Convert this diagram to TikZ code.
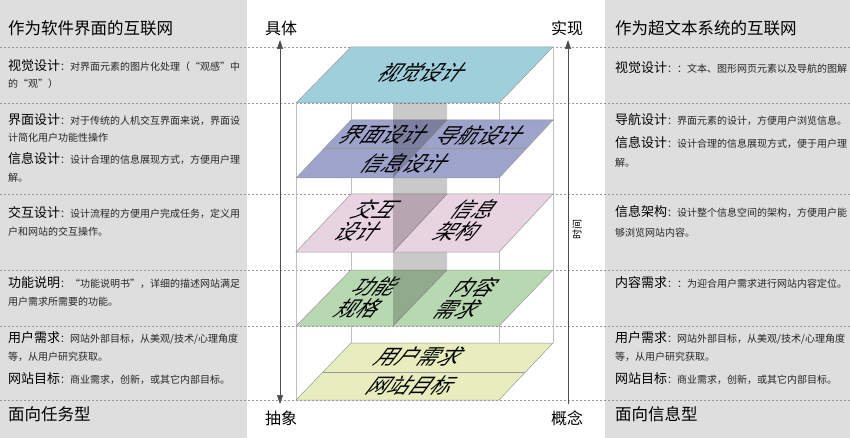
\documentclass[tikz,border=0pt]{standalone}
\usepackage{fontspec}
\setmainfont{Noto Sans CJK SC}
\usetikzlibrary{arrows.meta}
\definecolor{panelgray}{HTML}{DEDEDE}
\definecolor{visualc}{HTML}{9FCFDB}
\definecolor{surfacec}{HTML}{9DA3CB}
\definecolor{structc}{HTML}{E8D3E1}
\definecolor{scopec}{HTML}{B7D8B1}
\definecolor{strategyc}{HTML}{E8EDBE}
\newcommand{\hd}[1]{{\fontsize{13}{14}\selectfont\color{black}#1}}
\newcommand{\layer}[3]{\filldraw[plane,fill=#3] (351,#1) -- (553,#1) -- (499,#2) -- (296,#2) -- cycle;}

\begin{document}
\begin{tikzpicture}[x=1pt,y=-1pt,
  plane/.style={draw=black!40,line width=0.5pt},
  wall/.style={fill=black,fill opacity=0.21,draw=none},
  guide/.style={draw=black!40,dash pattern=on 2pt off 2pt,line width=0.8pt},
  edge/.style={draw=black!25,line width=0.8pt},
  axis/.style={draw=black!70,line width=0.6pt},
  tip/.style={-{Triangle[length=9pt,width=6pt]}},
  tit/.style={anchor=west,inner sep=0pt,font=\fontsize{16.5}{18}\selectfont},
  txt/.style={anchor=west,inner sep=0pt,text=black!85,font=\fontsize{10}{12}\selectfont},
  ends/.style={inner sep=0pt,font=\fontsize{16}{18}\selectfont},
  lbl/.style={inner sep=0pt,xslant=0.75,align=center,font=\fontsize{21}{22}\selectfont}]
\useasboundingbox (0,0) rectangle (850,438);
% side panels
\fill[panelgray] (0,0) rectangle (247,438);
\fill[panelgray] (605,0) rectangle (850,438);
% level guides
\foreach \y in {47,103,194,270,326,400}
  \draw[guide] (0,\y) -- (850,\y);
% box frame
\draw[edge] (296,103) -- (296,400);
\draw[edge] (499,103) -- (499,400);
\draw[edge] (351,47) -- (351,343);
\draw[edge] (553,47) -- (553,343);
% planes, bottom up
\layer{343}{400}{strategyc}
\draw[plane] (323,372) -- (525,372);
\layer{270}{326}{scopec}
\draw[plane] (447,270) -- (393,326);
\fill[wall] (447,194) -- (447,270) -- (393,326) -- (393,252) -- cycle;
\layer{194}{252}{structc}
\draw[plane] (447,194) -- (393,252);
\fill[wall] (447,120) -- (447,194) -- (393,252) -- (393,178) -- cycle;
\layer{120}{178}{surfacec}
\draw[plane] (324,148) -- (526,148);
\draw[plane] (447,120) -- (421,148);
\fill[wall] (447,47) -- (447,120) -- (393,178) -- (393,103) -- cycle;
\layer{47}{103}{visualc}
% plane labels
\node[lbl] (vis) at (423,73) {视觉设计};
\node[lbl] (itf) at (385,135) {界面设计};
\node[lbl] (nav) at (482,135) {导航设计};
\node[lbl] (inf) at (407,163) {信息设计};
\node[lbl] (ixd) at (368,220) {交互\\设计};
\node[lbl] (ia) at (467,220) {信息\\架构};
\node[lbl] (fs) at (368,298) {功能\\规格};
\node[lbl] (cr) at (467,298) {内容\\需求};
\node[lbl] (un) at (420,357) {用户需求};
\node[lbl] (sg) at (412,385) {网站目标};
% axes
\node[ends] (conc) at (281,28) {具体};
\node[ends] (abst) at (281,418) {抽象};
\node[ends] (real) at (567,28) {实现};
\node[ends] (idea) at (567,418) {概念};
\coordinate (lup) at (280,40);
\coordinate (ldn) at (280,404);
\coordinate (rup) at (568,40);
\coordinate (rdn) at (568,404);
\draw[axis,{Triangle[length=9pt,width=6pt]}-{Triangle[length=9pt,width=6pt]}] (lup) -- (ldn);
\draw[axis,tip] (rdn) -- (rup);
\node[inner sep=0pt,rotate=90,font=\fontsize{10}{12}\selectfont] (time) at (577,230) {时间};
% left panel
\node[tit] (lt) at (8,28) {作为软件界面的互联网};
\node[txt] (l1a) at (8,66) {\hd{视觉设计}：对界面元素的图片化处理（“观感”中};
\node[txt] (l1b) at (8,84) {的“观”）};
\node[txt] (l2a) at (8,120) {\hd{界面设计}：对于传统的人机交互界面来说，界面设};
\node[txt] (l2b) at (8,138) {计简化用户功能性操作};
\node[txt] (l3a) at (8,159) {\hd{信息设计}：设计合理的信息展现方式，方便用户理};
\node[txt] (l3b) at (8,178) {解。};
\node[txt] (l4a) at (8,213) {\hd{交互设计}：设计流程的方便用户完成任务，定义用};
\node[txt] (l4b) at (8,232) {户和网站的交互操作。};
\node[txt] (l5a) at (8,283) {\hd{功能说明}：“功能说明书”，详细的描述网站满足};
\node[txt] (l5b) at (8,302) {用户需求所需要的功能。};
\node[txt] (l6a) at (8,338) {\hd{用户需求}：网站外部目标，从美观/技术/心理角度};
\node[txt] (l6b) at (8,357) {等，从用户研究获取。};
\node[txt] (l7a) at (8,379) {\hd{网站目标}：商业需求，创新，或其它内部目标。};
\node[tit] (lf) at (8,414) {面向任务型};
% right panel
\node[tit] (rt) at (615,28) {作为超文本系统的互联网};
\node[txt] (r1a) at (615,68) {\hd{视觉设计}：：文本、图形网页元素以及导航的图解};
\node[txt] (r2a) at (615,120) {\hd{导航设计}：界面元素的设计，方便用户浏览信息。};
\node[txt] (r3a) at (615,143) {\hd{信息设计}：设计合理的信息展现方式，便于用户理};
\node[txt] (r3b) at (615,163) {解。};
\node[txt] (r4a) at (615,212) {\hd{信息架构}：设计整个信息空间的架构，方便用户能};
\node[txt] (r4b) at (615,233) {够浏览网站内容。};
\node[txt] (r5a) at (615,283) {\hd{内容需求}：：为迎合用户需求进行网站内容定位。};
\node[txt] (r6a) at (615,338) {\hd{用户需求}：网站外部目标，从美观/技术/心理角度};
\node[txt] (r6b) at (615,357) {等，从用户研究获取。};
\node[txt] (r7a) at (615,379) {\hd{网站目标}：商业需求，创新，或其它内部目标。};
\node[tit] (rf) at (615,414) {面向信息型};
\end{tikzpicture}
\end{document}
